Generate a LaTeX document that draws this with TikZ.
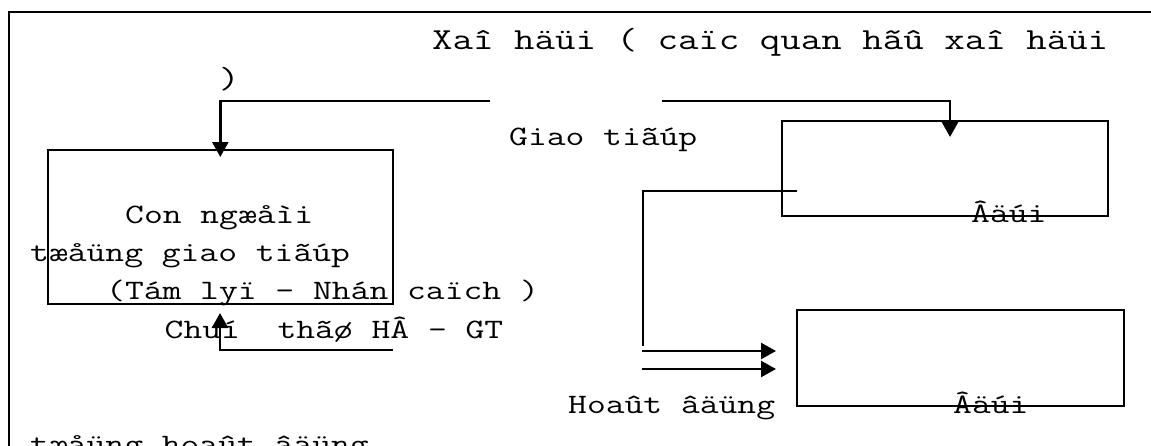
\documentclass[tikz,border=0pt]{standalone}
\usepackage{fontspec}
\newfontfamily\cour[FakeStretch=1.3]{Latin Modern Mono}
\usetikzlibrary{arrows.meta}
\begin{document}
\begin{tikzpicture}[x=1pt,y=-1pt,
  frame/.style={line width=2pt},
  box/.style={draw, line width=2pt, rectangle, inner sep=0pt},
  wire/.style={line width=2pt},
  arr/.style={line width=2.5pt, -{Triangle[length=15pt,width=16pt]}},
  body/.style={inner sep=0pt, anchor=base west, font=\cour\fontsize{28.1}{38.3}\selectfont},
  head/.style={inner sep=0pt, anchor=base west, font=\cour\fontsize{30.6}{39}\selectfont}]
\useasboundingbox (0,0) rectangle (1151,445);
\clip (0,0) rectangle (1151,445);

% outer frame (runs past the page on the right and at the bottom)
\draw[frame] (9,12) rectangle (1175,480);

% boxes
\node[box, minimum width=345pt, minimum height=154pt] (person) at (220.3,227) {};
\node[box, minimum width=326pt, minimum height=95pt] (upper) at (945,168.5) {};
\node[box, minimum width=327pt, minimum height=96pt] (lower) at (960.5,358) {};

% texts
\node[head] (title) at (432,49) {Xaî häüi ( caïc quan hãû xaî häüi};
\node[head] (titleb) at (219,88) {)};
\node[body] (giao) at (509,145) {Giao tiãúp};
\node[body] (l1) at (125,223) {Con ngæåìi};
\node[body] (l2) at (30,261) {tæåüng giao tiãúp};
\node[body] (l3) at (106,299) {(Tám lyï - Nhán caïch )};
\node[body] (l4) at (164.5,338) {Chuí\ \ thãø HÂ - GT};
\node[body] (hd) at (568,413) {Hoaût âäüng};
\node[body] (d1) at (971,222) {Âäúi};
\node[body] (d2) at (953,413) {Âäúi};
\node[body] (l5) at (30,453) {tæåüng hoaût âäüng};

% connectors
\coordinate (tl) at (490,101);
\coordinate (tr) at (662,101);
\coordinate (rt) at (393,350);
\coordinate (jn) at (797,191);
\coordinate (jd) at (643,346);
\coordinate (a1) at (642,351);
\coordinate (a2) at (642,369);

\draw[arr] (tl) -| ([yshift=-8pt]person.north);
\draw[arr] (tr) -| ([xshift=5pt,yshift=-17pt]upper.north);
\draw[arr] (rt) -| ([xshift=-0.3pt,yshift=-8pt]person.south);
\draw[wire] (jn) -| (jd);
\draw[arr] (a1) -- ([xshift=-20pt]lower.west |- a1);
\draw[arr] (a2) -- ([xshift=-20pt]lower.west |- a2);
\end{tikzpicture}
\end{document}
